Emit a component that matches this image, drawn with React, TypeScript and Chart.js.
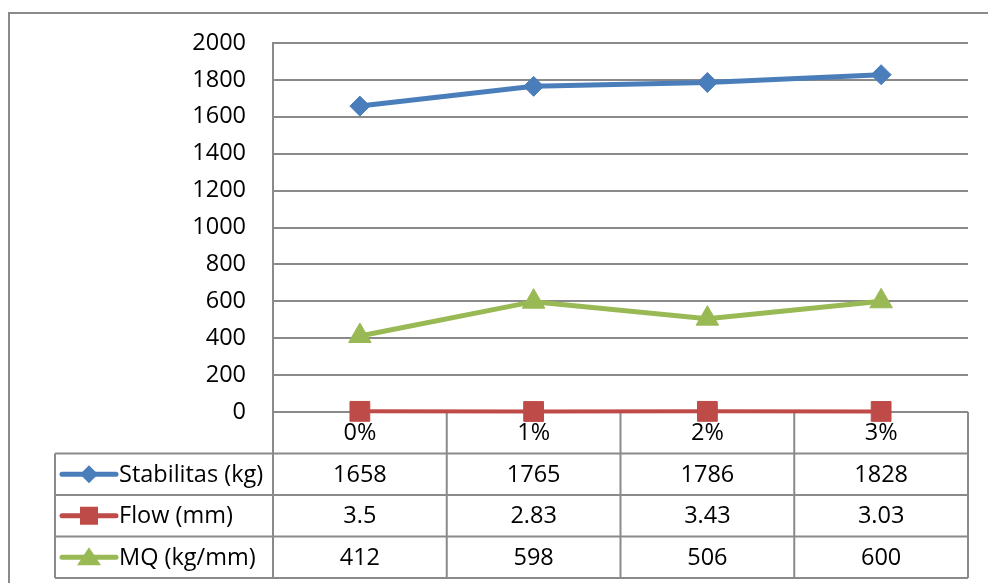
import React, { useEffect, useRef } from "react";
import { Chart, registerables } from "chart.js";

Chart.register(...registerables);

const categories = ["0%", "1%", "2%", "3%"];
const stabilitas = [1658, 1765, 1786, 1828];
const flow = [3.5, 2.83, 3.43, 3.03];
const mq = [412, 598, 506, 600];
const seriesLabels = ["Stabilitas (kg)", "Flow (mm)", "MQ (kg/mm)"];
const yMin = 0;
const yMax = 2000;
const yStep = 200;

const BLUE = "#4A7EBB";
const RED = "#BE4B48";
const GREEN = "#98B954";
const GRID = "#8a8a8a";
const FONT = "'Open Sans', Lato, sans-serif";
const FS = 23.5;

function drawMarker(ctx: CanvasRenderingContext2D, style: string, x: number, y: number, color: string) {
  ctx.save();
  ctx.fillStyle = color;
  ctx.beginPath();
  if (style === "diamond") {
    ctx.moveTo(x, y - 9);
    ctx.lineTo(x + 9, y);
    ctx.lineTo(x, y + 9);
    ctx.lineTo(x - 9, y);
    ctx.closePath();
  } else if (style === "square") {
    ctx.rect(x - 9, y - 9, 18, 18);
  } else {
    ctx.moveTo(x, y - 10);
    ctx.lineTo(x + 12, y + 8);
    ctx.lineTo(x - 12, y + 8);
    ctx.closePath();
  }
  ctx.fill();
  ctx.restore();
}

const tablePlugin = {
  id: "dataTable",
  beforeDatasetsDraw(chart: any) {
    const { ctx, chartArea, scales } = chart;
    const xs = scales.x;
    const n = categories.length;
    const half = (chartArea.right - chartArea.left) / n / 2;
    const top = chartArea.bottom;
    const rowH = 41.5;
    const tableLeft = 55;
    const seriesData = [stabilitas, flow, mq];
    const colors = [BLUE, RED, GREEN];
    const styles = ["diamond", "square", "triangle"];
    ctx.save();
    ctx.strokeStyle = GRID;
    ctx.lineWidth = 2;
    ctx.beginPath();
    for (let r = 1; r <= 4; r++) {
      const y = top + r * rowH;
      ctx.moveTo(tableLeft, y);
      ctx.lineTo(chartArea.right, y);
    }
    ctx.moveTo(tableLeft, top + rowH);
    ctx.lineTo(tableLeft, top + 4 * rowH);
    for (let i = 0; i < n; i++) {
      const cx = xs.getPixelForValue(i);
      const l = cx - half;
      ctx.moveTo(l, top);
      ctx.lineTo(l, top + 4 * rowH);
      if (i === n - 1) {
        ctx.moveTo(cx + half, top);
        ctx.lineTo(cx + half, top + 4 * rowH);
      }
    }
    ctx.stroke();

    ctx.fillStyle = "#000";
    ctx.font = `${FS}px ${FONT}`;
    ctx.textAlign = "center";
    ctx.textBaseline = "middle";
    for (let i = 0; i < n; i++) {
      const cx = xs.getPixelForValue(i);
      ctx.fillText(categories[i], cx, top + rowH / 2 + 1);
    }
    for (let s = 0; s < 3; s++) {
      const cy = top + (s + 1) * rowH + rowH / 2 + 1;
      for (let i = 0; i < n; i++) {
        const cx = xs.getPixelForValue(i);
        ctx.fillStyle = "#000";
        ctx.textAlign = "center";
        ctx.fillText(String(seriesData[s][i]), cx, cy);
      }
      ctx.strokeStyle = colors[s];
      ctx.lineWidth = 5;
      ctx.lineCap = "round";
      ctx.beginPath();
      ctx.moveTo(62, cy - 1);
      ctx.lineTo(116, cy - 1);
      ctx.stroke();
      drawMarker(ctx, styles[s], 89, cy - 1, colors[s]);
      ctx.fillStyle = "#000";
      ctx.textAlign = "left";
      ctx.fillText(seriesLabels[s], 119, cy);
    }
    ctx.restore();
  },
  afterDraw(chart: any) {
    const { ctx } = chart;
    ctx.save();
    ctx.strokeStyle = GRID;
    ctx.lineWidth = 2;
    ctx.strokeRect(9, 13, 1000, 600);
    ctx.restore();
  },
};

export default function App() {
  const ref = useRef<HTMLCanvasElement | null>(null);
  useEffect(() => {
    if (!ref.current) return;
    const chart = new Chart(ref.current, {
      type: "line",
      data: {
        labels: categories,
        datasets: [
          {
            label: seriesLabels[0],
            data: stabilitas,
            borderColor: BLUE,
            backgroundColor: BLUE,
            borderWidth: 5,
            pointStyle: "rectRot",
            pointRadius: 10,
            pointBorderWidth: 1,
            tension: 0,
            clip: false,
          },
          {
            label: seriesLabels[1],
            data: flow,
            borderColor: RED,
            backgroundColor: RED,
            borderWidth: 4,
            pointStyle: "rect",
            pointRadius: 14,
            pointBorderWidth: 1,
            tension: 0,
            clip: false,
          },
          {
            label: seriesLabels[2],
            data: mq,
            borderColor: GREEN,
            backgroundColor: GREEN,
            borderWidth: 5,
            pointStyle: "triangle",
            pointRadius: 13,
            pointBorderWidth: 1,
            tension: 0,
            clip: false,
          },
        ],
      },
      options: {
        animation: false,
        responsive: false,
        maintainAspectRatio: false,
        layout: { padding: { left: 0, right: 20, top: 43, bottom: 0 } },
        plugins: { legend: { display: false }, tooltip: { enabled: false } },
        scales: {
          x: {
            type: "category",
            offset: true,
            grid: { display: false, drawTicks: false },
            border: { display: false },
            ticks: { display: false },
            afterFit: (s: any) => {
              s.height = 583 - 43 - 369;
            },
          },
          y: {
            min: yMin,
            max: yMax,
            ticks: {
              stepSize: yStep,
              padding: 27,
              color: "#000",
              font: { family: FONT, size: FS },
              callback: (v: any) => String(v),
            },
            grid: { color: GRID, lineWidth: 2, drawTicks: false },
            border: { display: true, color: GRID, width: 2 },
            afterFit: (s: any) => {
              s.width = 273;
            },
          },
        },
      },
      plugins: [tablePlugin],
    });
    return () => chart.destroy();
  }, []);
  return (
    <div style={{ position: "absolute", left: 0, top: 0, width: 988, height: 583, background: "#fff" }}>
      <canvas ref={ref} width={988} height={583} style={{ width: 988, height: 583 }} />
    </div>
  );
}
